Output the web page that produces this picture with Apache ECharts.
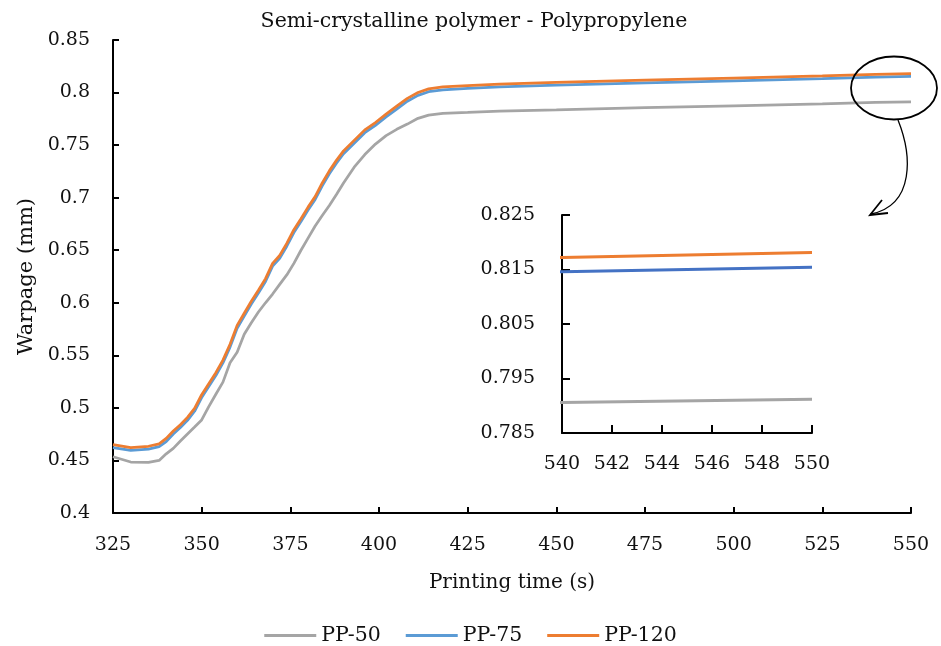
<!DOCTYPE html>
<html>
<head>
<meta charset="utf-8">
<script src="https://cdn.jsdelivr.net/npm/echarts@6/dist/echarts.min.js"></script>
<style>
  html, body { margin: 0; padding: 0; background: #fff; }
  #main { width: 941px; height: 646px; }
</style>
</head>
<body>
<div id="main"></div>
<script>
// printing time (s)
var times = [325, 330, 335, 338, 340, 342, 344, 346, 348, 350, 352, 354, 356, 358, 360, 362, 364, 366, 368, 370,
  372, 374, 376, 378, 380, 382, 384, 386, 388, 390, 393, 396, 399, 402, 405, 408, 411, 414, 418, 425,
  434, 450, 475, 500, 525, 540, 550];

// warpage (mm)
var pp50 = [0.4535, 0.4485, 0.4482, 0.4500, 0.4563, 0.4615, 0.4685, 0.4752, 0.4818, 0.4885, 0.5012, 0.5130, 0.5245, 0.5430, 0.5530, 0.5700, 0.5810, 0.5912, 0.6000, 0.6083,
  0.6175, 0.6265, 0.6375, 0.6500, 0.6615, 0.6730, 0.6830, 0.6925, 0.7030, 0.7140, 0.7290, 0.7410, 0.7510, 0.7590, 0.7650, 0.7700, 0.7755, 0.7785, 0.7803, 0.7812,
  0.7824, 0.7836, 0.7856, 0.7874, 0.7892, 0.7906, 0.7912];
var pp75 = [0.4622, 0.4595, 0.4608, 0.4632, 0.4680, 0.4752, 0.4813, 0.4882, 0.4968, 0.5098, 0.5203, 0.5308, 0.5428, 0.5578, 0.5757, 0.5873, 0.5988, 0.6093, 0.6203, 0.6348,
  0.6423, 0.6538, 0.6668, 0.6773, 0.6883, 0.6983, 0.7113, 0.7228, 0.7328, 0.7418, 0.7518, 0.7618, 0.7688, 0.7768, 0.7843, 0.7918, 0.7973, 0.8008, 0.8026, 0.8039,
  0.8055, 0.8071, 0.8092, 0.8112, 0.8132, 0.8146, 0.8154];
var pp120 = [0.4650, 0.4622, 0.4635, 0.4658, 0.4710, 0.4780, 0.4840, 0.4910, 0.4995, 0.5125, 0.5230, 0.5335, 0.5455, 0.5605, 0.5785, 0.5900, 0.6015, 0.6120, 0.6230, 0.6375,
  0.6450, 0.6565, 0.6695, 0.6800, 0.6910, 0.7010, 0.7140, 0.7255, 0.7355, 0.7445, 0.7545, 0.7645, 0.7715, 0.7795, 0.7870, 0.7945, 0.8000, 0.8035, 0.8053, 0.8065,
  0.8081, 0.8097, 0.8118, 0.8138, 0.8158, 0.8172, 0.8181];

var names = ['PP-50', 'PP-75', 'PP-120'];
var colors = ['#A5A5A5', '#5B9BD5', '#ED7D31'];
var insetColors = ['#A5A5A5', '#4472C4', '#ED7D31'];

var font = 'DejaVu Serif';

function pairs(vals) {
  var out = [];
  for (var i = 0; i < times.length; i++) out.push([times[i], vals[i]]);
  return out;
}

var allVals = [pp50, pp75, pp120];
var series = [];
allVals.forEach(function (v, i) {
  series.push({
    name: names[i], type: 'line', xAxisIndex: 0, yAxisIndex: 0,
    data: pairs(v), symbol: 'none',
    lineStyle: { color: colors[i], width: 2.75 }, itemStyle: { color: colors[i] },
    z: 2 + i
  });
});
// zoomed inset (540-550 s)
allVals.forEach(function (v, i) {
  series.push({
    name: names[i] + ' (inset)', type: 'line', xAxisIndex: 1, yAxisIndex: 1,
    data: pairs(v), symbol: 'none', clip: true,
    lineStyle: { color: insetColors[i], width: 3 }, itemStyle: { color: insetColors[i] },
    z: 2 + i
  });
});

var axisLine = { show: true, lineStyle: { color: '#000', width: 2 } };
var labelStyle = { color: '#111', fontFamily: font, fontSize: 19 };

var chart = echarts.init(document.getElementById('main'));
chart.setOption({
  animation: false,
  title: {
    text: 'Semi-crystalline polymer - Polypropylene',
    left: 469, top: 6, textAlign: 'center',
    textStyle: { color: '#111', fontFamily: font, fontSize: 20.5, fontWeight: 'normal' }
  },
  legend: {
    data: names, top: 620, left: 'center',
    icon: 'rect', itemWidth: 52, itemHeight: 3, itemGap: 25,
    textStyle: { color: '#111', fontFamily: font, fontSize: 20.5 }
  },
  grid: [
    { left: 113, right: 30, top: 40, bottom: 133 },
    { left: 562, right: 129, top: 215, bottom: 213 }
  ],
  xAxis: [
    {
      type: 'value', gridIndex: 0, min: 325, max: 550, interval: 25,
      name: 'Printing time (s)', nameLocation: 'middle', nameGap: 60,
      nameTextStyle: { color: '#111', fontFamily: font, fontSize: 20 },
      axisLine: axisLine, splitLine: { show: false },
      axisTick: { show: true, inside: true, length: 6, lineStyle: { color: '#000', width: 2 } },
      axisLabel: Object.assign({ margin: 23 }, labelStyle)
    },
    {
      type: 'value', gridIndex: 1, min: 540, max: 550, interval: 2,
      axisLine: axisLine, splitLine: { show: false },
      axisTick: { show: true, inside: true, length: 8, lineStyle: { color: '#000', width: 2 } },
      axisLabel: Object.assign({ margin: 22 }, labelStyle)
    }
  ],
  yAxis: [
    {
      type: 'value', gridIndex: 0, min: 0.4, max: 0.85, interval: 0.05,
      name: 'Warpage (mm)', nameLocation: 'middle', nameGap: 76,
      nameTextStyle: { color: '#111', fontFamily: font, fontSize: 21 },
      axisLine: axisLine, splitLine: { show: false },
      axisTick: { show: true, inside: true, length: 6, lineStyle: { color: '#000', width: 2 } },
      axisLabel: Object.assign({ margin: 23 }, labelStyle)
    },
    {
      type: 'value', gridIndex: 1, min: 0.785, max: 0.825, interval: 0.01,
      axisLine: axisLine, splitLine: { show: false },
      axisTick: { show: true, inside: true, length: 8, lineStyle: { color: '#000', width: 2 } },
      axisLabel: Object.assign({ margin: 27, formatter: function (v) { return v.toFixed(3); } }, labelStyle)
    }
  ],
  graphic: [
    // circled region + arrow pointing to inset
    { type: 'ellipse', shape: { cx: 894, cy: 88, rx: 43, ry: 31.5 }, style: { fill: 'none', stroke: '#000', lineWidth: 1.8 }, z: 100 },
    { type: 'bezierCurve', shape: { x1: 898, y1: 120, cpx1: 912, cpy1: 155, cpx2: 915, cpy2: 205, x2: 871, y2: 214 }, style: { fill: 'none', stroke: '#000', lineWidth: 1.3 }, z: 100 },
    { type: 'polyline', shape: { points: [[882, 200], [870, 215], [888, 213]] }, style: { fill: 'none', stroke: '#000', lineWidth: 1.8 }, z: 100 }
  ],
  series: series
});
</script>
</body>
</html>
